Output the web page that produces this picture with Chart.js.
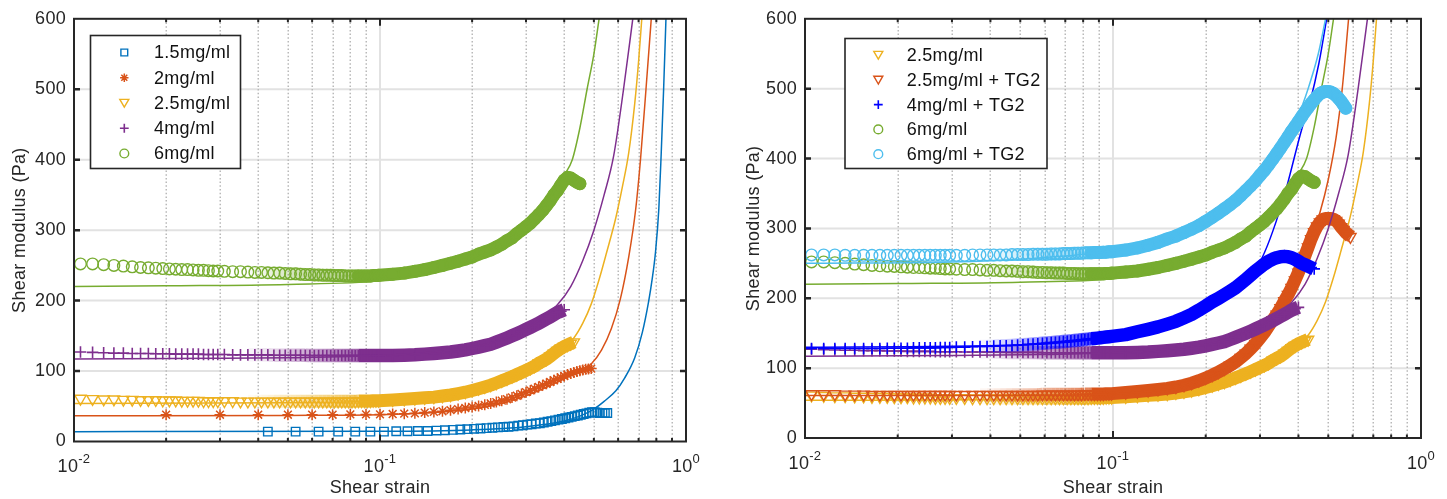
<!DOCTYPE html>
<html><head><meta charset="utf-8">
<script src="https://cdn.jsdelivr.net/npm/chart.js@4/dist/chart.umd.min.js"></script>
<style>
html,body{margin:0;padding:0;background:#fff;width:1447px;height:499px;overflow:hidden;}
#c1{position:absolute;left:0;top:0;width:720px;height:499px;}
#c2{position:absolute;left:720px;top:0;width:727px;height:499px;}
</style></head><body>
<canvas id="c1" width="720" height="499"></canvas>
<canvas id="c2" width="727" height="499"></canvas>
<script>
// ---------- tick values ----------
const xMajorTicks = [0.01, 0.1, 1];
const xTickExp = ['-2', '-1', '0'];
const xMinorTicks = [0.02,0.03,0.04,0.05,0.06,0.07,0.08,0.09,0.2,0.3,0.4,0.5,0.6,0.7,0.8,0.9];
const yTicks = [0,100,200,300,400,500,600];

// ---------- legend labels ----------
const leftLabels = ['1.5mg/ml','2mg/ml','2.5mg/ml','4mg/ml','6mg/ml'];
const rightLabels = ['2.5mg/ml','2.5mg/ml + TG2','4mg/ml + TG2','6mg/ml','6mg/ml + TG2'];

// ---------- dense strain sweep (shared) ----------
const strainDense = [
0.0105,0.0115,0.0125,0.0135,0.0145,0.0155,0.0165,0.0175,0.0185,0.0195,
0.0205,0.0215,0.0225,0.0235,0.0245,0.0255,0.0265,0.0275,0.0285,0.0295,
0.031,0.033,0.035,0.037,0.039,0.041,0.043,0.045,0.047,0.049,
0.051,0.053,0.055,0.057,0.059,0.061,0.063,0.065,0.067,0.069,
0.071,0.073,0.075,0.077,0.079,0.081,0.083,0.085,0.087,0.089,
0.091,0.093,0.095,0.097,0.099,
0.11,0.12,0.13,0.14,0.15,0.16,0.17,0.18,0.19,0.20,
0.21,0.22,0.23,0.24,0.25,0.26,0.27,0.28,0.29,0.30,
0.31,0.32,0.33,0.34,0.35,0.36,0.37,0.38,0.39,0.40,
0.41,0.42,0.43,0.44,0.45,0.46,0.47,0.48,0.49,0.50,
0.51,0.52,0.53,0.54,0.55,0.56,0.57,0.58,0.59,0.60];

// 6 mg/ml
const g6 = [
252,252,251,250,249,248,247,246.5,246,245.5,
245,244.5,244,244,243.5,243,243,242.5,242,242,
241.5,241,241,240.5,240,240,239.5,239,239,238.5,
238,238,237.5,237,237,236.5,236.5,236,236,236,
235.5,235.5,235.5,235,235,235,235,235,235,235,
235,235,235.5,235.5,236,
237.5,239,241.5,244,247,250,253,256,259,262,
266,269,272,276,280,285,289,295,300,305,
310,316,322,328,335,342,350,356,364,371,
375,374,371,368,366];
// 4 mg/ml
const g4 = [
127,126.5,126,125.5,125.5,125,125,125,124.5,124.5,
124.5,124,124,124,124,124,123.5,123.5,123.5,123.5,
123.5,123,123,123,123,123,123,122.5,122.5,122.5,
122.5,122.5,122.5,122.5,122,122,122,122,122,122,
122,122,122,122,122,122,122,122,122,122,
122,122,122,122,122,
122,122.5,123,124,125,126,127,128.5,130,132,
134,136,138,141,144,147,150,153,156,159,
162,165,168,171,174,177,180,183,185,187];
// 2.5 mg/ml
const g25 = [
61,60.5,60,60,59.5,59.5,59,59,59,58.5,
58.5,58.5,58,58,58,58,57.5,57.5,57.5,57.5,
57.5,57.5,57,57,57,57,57,57,57,57,
57,57,57,57,57,57,57,57,57,57,
57,57,57,57,57,57,57,57.5,57.5,57.5,
57.5,57.5,58,58,58,
59,60,61,62,63,64.5,66,68,70,72.5,
75,77.5,80,83,86,89,92,95,98,101,
104,107,111,114,117,121,125,129,132,135,
137,139,141];
// 6 mg/ml + TG2
const g6TG2 = [
262,262,262,261.5,261.5,261.5,261.5,261.5,261.5,261.5,
261.5,261.5,261.5,261.5,261.5,261.5,261.5,261.5,261.5,261.5,
261.5,261.5,262,262,262,262,262,262,262.5,262.5,
262.5,262.5,263,263,263,263,263.5,263.5,263.5,264,
264,264,264.5,264.5,264.5,265,265,265,265.5,265.5,
265.5,266,266,266.5,266.5,
269,272,276,280,285,289,294,299,304,310,
316,322,328,334,340,347,354,361,368,376,
383,391,399,407,415,423,431,439,446,453,
460,467,473,479,484,489,493,495,496,496,
495,493,490,486,482,477,472];
// 4 mg/ml + TG2
const g4TG2 = [
128,128,128,128,128,128,128,128,128.5,128.5,
128.5,128.5,129,129,129,129,129,129.5,129.5,129.5,
130,130,130.5,131,131,131.5,132,132,132.5,133,
133.5,134,134.5,135,135.5,136,136.5,137,137.5,138,
138.5,139,139.5,140,140.5,141,141.5,142,142.5,143,
143.5,144,144.5,145,145.5,
148,152,155.5,159,163,167,172,177,183,189,
195,200,205,210,215,221,227,233,239,244,
249,253,256,258,259.5,260,259.5,258,256,253,
250,248,246,244,242];
// 2.5 mg/ml + TG2
const g25TG2 = [
63,63,63,62.5,62.5,62.5,62,62,62,62,
62,62,62,62,62,62,62,62,62,62,
62,62,62,62,62,62,62,62,62,62,
62,62,62,62,62.5,62.5,62.5,62.5,62.5,62.5,
62.5,62.5,62.5,62.5,62.5,63,63,63,63,63,
63,63,63.5,63.5,63.5,
65,66.5,68,69.5,71,73,75.5,78.5,82,86,
90,94.5,99,104,109,115,121,128,135,143,
151,160,169,177,186,196,205,215,226,237,
249,261,273,285,295,303,309,313,314,314,
314,313,311,307,302,298,294,291,288];

// 2 mg/ml
const strain2 = [
0.02,0.03,0.04,0.05,0.06,0.07,0.08,0.09,0.10,0.11,
0.12,0.13,0.14,0.15,0.16,0.17,0.18,0.19,0.20,0.21,
0.22,0.23,0.24,0.25,0.26,0.27,0.28,0.29,0.30,0.31,
0.32,0.33,0.34,0.35,0.36,0.37,0.38,0.39,0.40,0.41,
0.42,0.43,0.44,0.45,0.46,0.47,0.48,0.49];
const g2 = [
38,38,38,38,38,38,38.5,38.5,38.5,39,
39.5,40,41,42,43,44.5,46,47.5,49,50.5,
52,54,56,58,60,62.5,65,67.5,70,72.5,
75,77.5,80,82,84.5,87,89,91,93,95,
96.5,98,99.5,100.5,101.5,102.5,103,103.5];

// 1.5 mg/ml
const strain15 = [
0.043,0.053,0.063,0.073,0.083,0.093,0.103,0.113,0.123,0.133,
0.143,0.153,0.163,0.173,0.183,0.193,0.203,0.213,0.223,0.233,
0.243,0.253,0.263,0.273,0.283,0.293,0.303,0.313,0.323,0.333,
0.343,0.353,0.363,0.373,0.383,0.393,0.403,0.413,0.423,0.433,
0.443,0.453,0.463,0.473,0.483,0.493,0.503,0.513,0.523,0.533,
0.543,0.553];
const g15 = [
14,14,14,14,14,14,14,14.5,14.5,15,
15,15.5,16,16.5,17,17.5,18,18.5,19,19.5,
20,20.5,21,21.5,22.5,23,24,24.5,25.5,26,
27,28,29,30,31,32,33,34,35,36,
37,38,39,40,41,41.5,41.5,41,40.5,40.5,
40.5,40.5];

// ---------- model fits ----------
const fit15S = [0.01,0.1,0.2,0.3,0.4,0.45,0.5,0.54,0.59,0.63,0.68,0.72,0.755,0.775,0.795,0.815,0.83,0.845,0.86];
const fit15G = [14,14.5,16.5,21,29,36,46,57,72,90,119,155,199,230,269,330,410,500,600];
const fit2S = [0.01,0.05,0.1,0.15,0.2,0.25,0.3,0.35,0.4,0.45,0.49,0.53,0.57,0.61,0.65,0.685,0.71,0.74,0.77];
const fit2G = [36.5,37,38,41,46,54,65,77,89,100,110,130,160,202,262,330,400,500,600];
const fit25S = [0.01,0.05,0.1,0.15,0.2,0.25,0.3,0.35,0.4,0.43,0.46,0.49,0.52,0.55,0.59,0.62,0.65,0.68,0.70,0.717];
const fit25G = [54,55,57.5,63,71,84,100,117,134,147,168,195,230,268,318,362,410,480,540,600];
const fit4S = [0.01,0.03,0.05,0.1,0.15,0.2,0.25,0.3,0.35,0.38,0.42,0.46,0.50,0.54,0.58,0.625,0.67];
const fit4G = [117,118,119,122,127,134,145,160,180,194,220,257,300,350,405,500,600];
const fit6S = [0.01,0.02,0.05,0.1,0.15,0.2,0.25,0.3,0.35,0.38,0.40,0.425,0.45,0.475,0.50,0.52];
const fit6G = [220,221,223,228,240,257,280,307,340,362,378,400,445,500,550,600];
const fit6TG2S = [0.01,0.03,0.05,0.1,0.15,0.2,0.25,0.3,0.35,0.40,0.43,0.464,0.49];
const fit6TG2G = [250,252,256,268,285,308,338,373,412,462,500,550,600];
const fit4TG2S = [0.01,0.05,0.1,0.15,0.2,0.25,0.3,0.355,0.41,0.435,0.466,0.494];
const fit4TG2G = [130,133,145,163,188,217,252,338,442,479,536,600];
const fit25TG2S = [0.01,0.05,0.1,0.15,0.2,0.25,0.3,0.35,0.4,0.45,0.47,0.5,0.53,0.555,0.582];
const fit25TG2G = [61,61,63,70,85,108,142,185,237,298,323,370,430,500,600];

// ---------- styles ----------
const C15='#0072BD', C2='#D95319', C25='#EDB120', C4='#7E2F8E', C6='#77AC30', C4TG2='#0000FF', C6TG2='#4DBEEE', C25TG2='#D95319';
const FONT = "'Liberation Sans', Arial, Helvetica, sans-serif";
const FS = 18;
const LS = '0.3px';
const AX = '#262626';
const RAMP0 = 0.035, RAMP1 = 0.085;

function pts(xs, ys){ const out=[]; for(let i=0;i<ys.length&&i<xs.length;i++){ if(ys[i]!=null) out.push({x:xs[i],y:ys[i]}); } return out; }
function rgba(hex, a){ const n=parseInt(hex.slice(1),16); return `rgba(${(n>>16)&255},${(n>>8)&255},${n&255},${a})`; }

const M = {
  rect:{style:'rect',r:6,bw:1.4,rot:0},
  star:{style:'star',r:5.5,bw:1.5,rot:0},
  tri:{style:'triangle',r:6.5,bw:1.4,rot:180,band:13,cap:'butt'},
  cross:{style:'cross',r:5.8,bw:1.6,rot:0,band:13.5,cap:'butt'},
  circ:{style:'circle',r:5.8,bw:1.4,rot:0,band:13,cap:'round'}
};

function dataDs(xs, ys, color, m, band){
  const data = pts(xs, ys);
  const ds = { data, pointStyle:m.style, pointRotation:m.rot, pointRadius:m.r, pointHoverRadius:m.r,
    pointBorderWidth:m.bw, pointBorderColor:color, pointBackgroundColor:'rgba(0,0,0,0)',
    borderColor:color, showLine:false, clip:0 };
  if (band && m.band){
    const alphaAt = i => {
      const s = data[i].x;
      const t = (Math.log(s) - Math.log(RAMP0)) / (Math.log(RAMP1) - Math.log(RAMP0));
      return Math.max(0, Math.min(1, t));
    };
    Object.assign(ds, { showLine:true, borderWidth:m.band, borderCapStyle:m.cap, borderJoinStyle:'round', tension:0,
      segment:{
        borderColor: c => { const a = alphaAt(c.p0DataIndex); return a >= 1 ? color : rgba(color, (a*0.75).toFixed(2)); },
        borderCapStyle: c => (alphaAt(c.p0DataIndex) >= 1 ? m.cap : 'butt')
      } });
  }
  return ds;
}
function fitDs(xs, ys, color){
  return { data:pts(xs,ys), showLine:true, borderColor:color, borderWidth:1.5, pointRadius:0, pointHoverRadius:0,
    cubicInterpolationMode:'monotone', fill:false, clip:0 };
}
function ordered(list){ const n=list.length; list.forEach((d,i)=>{ d.order = n - i; }); return list; }

function drawMarker(ctx, m, x, y, r, color){
  ctx.save(); ctx.strokeStyle=color; ctx.lineWidth=m.bw; ctx.setLineDash([]); ctx.beginPath();
  if (m.style==='circle') ctx.arc(x,y,r,0,Math.PI*2);
  else if (m.style==='rect'){ const s=r*Math.SQRT1_2; ctx.rect(x-s,y-s,2*s,2*s); }
  else if (m.style==='triangle'){ let a=m.rot*Math.PI/180; for(let k=0;k<3;k++){ const px=x+Math.sin(a)*r, py=y-Math.cos(a)*r; if(k) ctx.lineTo(px,py); else ctx.moveTo(px,py); a+=2*Math.PI/3; } ctx.closePath(); }
  else if (m.style==='cross'){ ctx.moveTo(x-r,y); ctx.lineTo(x+r,y); ctx.moveTo(x,y-r); ctx.lineTo(x,y+r); }
  else if (m.style==='star'){ ctx.moveTo(x-r,y); ctx.lineTo(x+r,y); ctx.moveTo(x,y-r); ctx.lineTo(x,y+r); const d=r*Math.SQRT1_2; ctx.moveTo(x-d,y-d); ctx.lineTo(x+d,y+d); ctx.moveTo(x-d,y+d); ctx.lineTo(x+d,y-d); }
  ctx.stroke(); ctx.restore();
}

function decor(legend){
  return {
    id:'decor',
    beforeDraw(chart){ chart.ctx.letterSpacing = LS; },
    beforeDatasetsDraw(chart){
      const {ctx, chartArea:a, scales:{x,y}} = chart;
      ctx.save();
      ctx.lineWidth=2; ctx.strokeStyle='#e2e2e2'; ctx.setLineDash([]);
      ctx.beginPath();
      yTicks.forEach(v=>{ if(v>0&&v<600){ const py=y.getPixelForValue(v); ctx.moveTo(a.left,py); ctx.lineTo(a.right,py);} });
      xMajorTicks.forEach(v=>{ const px=x.getPixelForValue(v); if(px>a.left+1&&px<a.right-1){ ctx.moveTo(px,a.top); ctx.lineTo(px,a.bottom);} });
      ctx.stroke();
      ctx.lineWidth=1.5; ctx.strokeStyle='#b9b9b9'; ctx.setLineDash([1.5,2.2]);
      ctx.beginPath();
      xMinorTicks.forEach(v=>{ const px=Math.round(x.getPixelForValue(v))+0.25; ctx.moveTo(px,a.top); ctx.lineTo(px,a.bottom); });
      ctx.stroke();
      ctx.restore();
    },
    afterDatasetsDraw(chart){
      const {ctx, chartArea:a, scales:{x,y}} = chart;
      ctx.save(); ctx.setLineDash([]); ctx.strokeStyle=AX;
      ctx.lineWidth=2.5; ctx.beginPath();
      yTicks.forEach(v=>{ if(v>0&&v<600){ const py=y.getPixelForValue(v); ctx.moveTo(a.left,py); ctx.lineTo(a.left+6,py); ctx.moveTo(a.right,py); ctx.lineTo(a.right-6,py);} });
      ctx.stroke();
      ctx.lineWidth=2; ctx.beginPath();
      xMinorTicks.forEach(v=>{ const px=x.getPixelForValue(v); ctx.moveTo(px,a.bottom); ctx.lineTo(px,a.bottom-3.5); ctx.moveTo(px,a.top); ctx.lineTo(px,a.top+3.5); });
      xMajorTicks.forEach(v=>{ const px=x.getPixelForValue(v); ctx.moveTo(px,a.bottom); ctx.lineTo(px,a.bottom-7); ctx.moveTo(px,a.top); ctx.lineTo(px,a.top+7); });
      ctx.stroke();
      ctx.lineWidth=2; ctx.strokeRect(a.left,a.top,a.right-a.left,a.bottom-a.top);
      ctx.restore();
    },
    afterDraw(chart){
      const {ctx, chartArea:a, scales:{x}} = chart;
      ctx.save(); ctx.letterSpacing=LS; ctx.fillStyle=AX; ctx.textAlign='left'; ctx.textBaseline='alphabetic';
      xMajorTicks.forEach((v,i)=>{
        const px=x.getPixelForValue(v);
        ctx.font=`${FS}px ${FONT}`; const w1=ctx.measureText('10').width;
        ctx.font=`13px ${FONT}`; const w2=ctx.measureText(xTickExp[i]).width;
        const x0=px-(w1+w2)/2;
        ctx.font=`${FS}px ${FONT}`; ctx.fillText('10',x0,a.bottom+30.5);
        ctx.font=`13px ${FONT}`; ctx.fillText(xTickExp[i],x0+w1,a.bottom+21.5);
      });
      // legend
      const L=legend;
      ctx.fillStyle='#fff'; ctx.fillRect(L.x,L.y,L.w,L.h);
      ctx.strokeStyle=AX; ctx.lineWidth=1.6; ctx.strokeRect(L.x,L.y,L.w,L.h);
      L.items.forEach((it,i)=>{
        const yy=L.first+i*L.dy;
        drawMarker(ctx,it.m,L.mx,yy+(it.m.style==='triangle'?-1:0),it.lr,it.color);
        ctx.fillStyle='#111'; ctx.font=`${FS}px ${FONT}`; ctx.textBaseline='middle'; ctx.textAlign='left';
        ctx.fillText(it.label,L.tx,yy+1);
      });
      ctx.restore();
    }
  };
}

function makeChart(id, geom, datasets, legend){
  return new Chart(document.getElementById(id), {
    type:'scatter',
    data:{datasets},
    options:{
      responsive:false, animation:false, devicePixelRatio:1, events:[],
      layout:{padding:{left:0,top:geom.top,right:geom.right,bottom:0}},
      plugins:{legend:{display:false}, tooltip:{enabled:false}},
      scales:{
        x:{type:'logarithmic', min:0.01, max:1, position:'bottom',
           ticks:{display:false}, grid:{display:false,drawTicks:false}, border:{display:false},
           title:{display:true,text:'Shear strain',color:AX,font:{family:FONT,size:FS},padding:{top:0,bottom:0}},
           afterFit:s=>{ s.height=geom.xh; }},
        y:{type:'linear', min:0, max:600, position:'left',
           afterBuildTicks:s=>{ s.ticks=yTicks.map(v=>({value:v})); },
           ticks:{color:AX,font:{family:FONT,size:FS},padding:8},
           grid:{display:false,drawTicks:false,tickLength:0}, border:{display:false},
           title:{display:true,text:'Shear modulus (Pa)',color:AX,font:{family:FONT,size:FS},padding:{top:geom.tp,bottom:0}},
           afterFit:s=>{ s.width=geom.yw; }}
      }
    },
    plugins:[decor(legend)]
  });
}

// ---------- left panel ----------
const leftSets = ordered([
  dataDs(strain15,g15,C15,M.rect,false), fitDs(fit15S,fit15G,C15),
  dataDs(strain2,g2,C2,M.star,false), fitDs(fit2S,fit2G,C2),
  dataDs(strainDense,g25,C25,M.tri,true), fitDs(fit25S,fit25G,C25),
  dataDs(strainDense,g4,C4,M.cross,true), fitDs(fit4S,fit4G,C4),
  dataDs(strainDense,g6,C6,M.circ,true), fitDs(fit6S,fit6G,C6)
]);
const leftLegend = { x:90.5, y:35.5, w:150, h:133, first:52.5, dy:25.25, mx:124.3, tx:154,
  items:[
    {label:leftLabels[0], m:M.rect, lr:4.8, color:C15},
    {label:leftLabels[1], m:M.star, lr:4.2, color:C2},
    {label:leftLabels[2], m:M.tri, lr:5.2, color:C25},
    {label:leftLabels[3], m:M.cross, lr:4.4, color:C4},
    {label:leftLabels[4], m:M.circ, lr:4.4, color:C6}
  ]};
makeChart('c1',{top:15,right:34,xh:57.5,yw:74,tp:8.8},leftSets,leftLegend);

// ---------- right panel ----------
const rightSets = ordered([
  dataDs(strainDense,g25,C25,M.tri,true), fitDs(fit25S,fit25G,C25),
  dataDs(strainDense,g25TG2,C25TG2,M.tri,true), fitDs(fit25TG2S,fit25TG2G,C25TG2),
  dataDs(strainDense,g4,C4,M.cross,true), fitDs(fit4S,fit4G,C4),
  dataDs(strainDense,g4TG2,C4TG2,M.cross,true), fitDs(fit4TG2S,fit4TG2G,C4TG2),
  dataDs(strainDense,g6,C6,M.circ,true), fitDs(fit6S,fit6G,C6),
  dataDs(strainDense,g6TG2,C6TG2,M.circ,true), fitDs(fit6TG2S,fit6TG2G,C6TG2)
]);
const rightLegend = { x:125, y:38.5, w:202, h:130, first:55, dy:24.8, mx:158.3, tx:186.7,
  items:[
    {label:rightLabels[0], m:M.tri, lr:5.2, color:C25},
    {label:rightLabels[1], m:M.tri, lr:5.2, color:C25TG2},
    {label:rightLabels[2], m:M.cross, lr:4.4, color:C4TG2},
    {label:rightLabels[3], m:M.circ, lr:4.4, color:C6},
    {label:rightLabels[4], m:M.circ, lr:4.4, color:C6TG2}
  ]};
makeChart('c2',{top:15,right:26,xh:61,yw:85,tp:23.2},rightSets,rightLegend);
</script>
</body></html>
